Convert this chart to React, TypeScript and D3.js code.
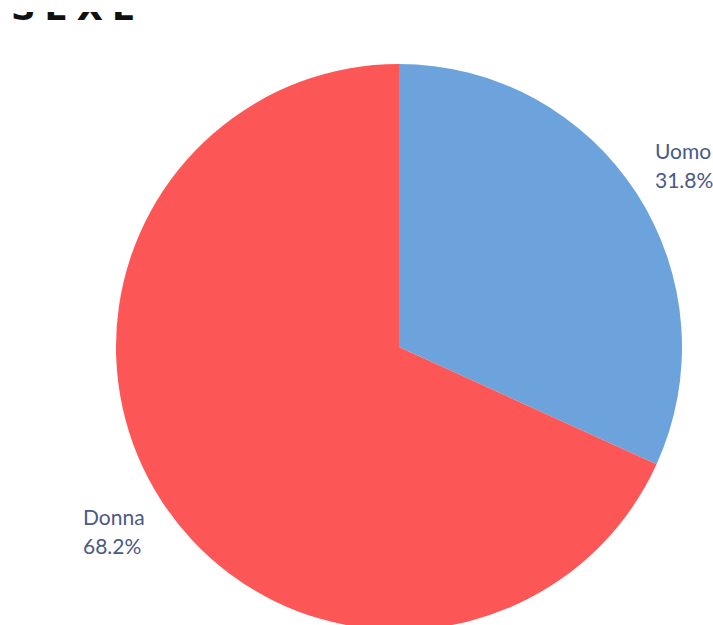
import React from "react";
import * as d3 from "d3";

const categories = ["Uomo", "Donna"];
const values = [31.8, 68.2];
const colors = ["#6ca3dc", "#fd5656"];
const title = "SEXE";

const W = 713;
const H = 625;
const cx = 399;
const cy = 347;
const R = 283;

export default function App() {
  const pie = d3.pie<number>().sort(null).value((d) => d)(values);
  const arc = d3.arc<d3.PieArcDatum<number>>().innerRadius(0).outerRadius(R);
  const labelPos = [
    { x: 655, y: 159 },
    { x: 83, y: 525 },
  ];
  return (
    <svg width={W} height={H} style={{ position: "absolute", left: 0, top: 0, background: "#fff" }}>
      <defs>
        <clipPath id="titleClip">
          <rect x={0} y={12} width={200} height={10} />
        </clipPath>
      </defs>
      <text x={11} y={20} clipPath="url(#titleClip)" fontFamily="DejaVu Sans" fontWeight="bold" fontSize={34} letterSpacing={9} fill="#111">
        {title}
      </text>
      <g transform={`translate(${cx},${cy})`}>
        {pie.map((p, i) => (
          <path key={i} d={arc(p) || ""} fill={colors[i]} />
        ))}
      </g>
      {pie.map((p, i) => {
        const pos = labelPos[i];
        return (
          <text key={i} x={pos.x} y={pos.y} fontFamily="Lato" fontWeight={400} fontSize={21} fill="#4a5986">
            <tspan x={pos.x}>{categories[i]}</tspan>
            <tspan x={pos.x} dy={29}>{values[i].toFixed(1)}%</tspan>
          </text>
        );
      })}
    </svg>
  );
}
